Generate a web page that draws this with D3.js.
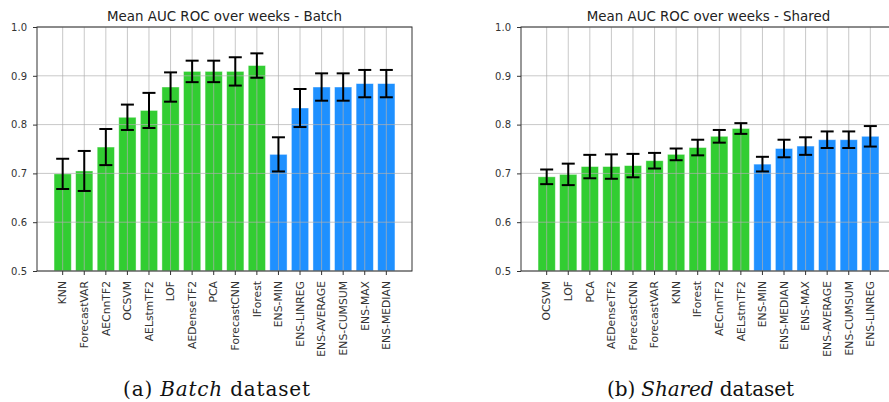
<!DOCTYPE html>
<html>
<head>
<meta charset="utf-8">
<script src="https://cdn.jsdelivr.net/npm/d3@7"></script>
<style>
  body { margin: 0; background: #fff; }
  svg { display: block; }
</style>
</head>
<body>
<svg id="chart" width="889" height="402"></svg>
<script>
// Batch panel
const batchNames = ["KNN", "ForecastVAR", "AECnnTF2", "OCSVM", "AELstmTF2", "LOF", "AEDenseTF2", "PCA", "ForecastCNN", "IForest",
  "ENS-MIN", "ENS-LINREG", "ENS-AVERAGE", "ENS-CUMSUM", "ENS-MAX", "ENS-MEDIAN"]
const batchMean = [0.699, 0.705, 0.754, 0.815, 0.829, 0.877, 0.909, 0.909, 0.909, 0.921,
  0.739, 0.834, 0.877, 0.877, 0.884, 0.884]
const batchErr = [0.031, 0.041, 0.037, 0.026, 0.036, 0.030, 0.022, 0.022, 0.029, 0.025,
  0.035, 0.039, 0.028, 0.028, 0.028, 0.028]

// Shared panel
const sharedNames = ["OCSVM", "LOF", "PCA", "AEDenseTF2", "ForecastCNN", "ForecastVAR", "KNN", "IForest", "AECnnTF2", "AELstmTF2",
  "ENS-MIN", "ENS-MEDIAN", "ENS-MAX", "ENS-AVERAGE", "ENS-CUMSUM", "ENS-LINREG"]
const sharedMean = [0.693, 0.698, 0.714, 0.714, 0.716, 0.726, 0.739, 0.753, 0.776, 0.792,
  0.719, 0.751, 0.756, 0.769, 0.769, 0.776]
const sharedErr = [0.015, 0.022, 0.024, 0.025, 0.024, 0.016, 0.012, 0.016, 0.013, 0.011,
  0.015, 0.018, 0.018, 0.017, 0.017, 0.021]

const yTicks = [0.5, 0.6, 0.7, 0.8, 0.9, 1.0]

const GREEN = "#32cd32", BLUE = "#1e90ff"

const svg = d3.select("#chart")

function drawPanel(left, names, means, errs, title, tag, italicWord) {
  const dim = { top: 27, bottom: 271, width: 375 }
  const g = svg.append("g").attr("transform", `translate(${left},0)`)

  const x = d3.scaleBand().domain(names).range([0, dim.width]).paddingInner(0.2).paddingOuter(0.79)
  const y = d3.scaleLinear().domain([0.5, 1.0]).range([dim.bottom, dim.top])
  const data = names.map((n, i) => ({ name: n, mean: means[i], err: errs[i] }))

  // bars
  g.selectAll("rect.bar").data(data).join("rect")
    .attr("class", "bar")
    .attr("x", d => x(d.name))
    .attr("width", x.bandwidth())
    .attr("y", d => y(d.mean))
    .attr("height", d => y(0.5) - y(d.mean))
    .attr("fill", d => d.name.startsWith("ENS") ? BLUE : GREEN)
    .attr("stroke", "rgba(255,255,255,0.5)")
    .attr("stroke-width", 0.8)

  // grid on top of bars, like the original
  const grid = g.append("g").attr("stroke", "#b0b0b0").attr("stroke-opacity", 0.7).attr("stroke-width", 1)
  grid.selectAll("line.h").data(yTicks).join("line")
    .attr("x1", 0).attr("x2", dim.width)
    .attr("y1", d => y(d)).attr("y2", d => y(d))
  grid.selectAll("line.v").data(names).join("line")
    .attr("x1", d => x(d) + x.bandwidth() / 2).attr("x2", d => x(d) + x.bandwidth() / 2)
    .attr("y1", dim.top).attr("y2", dim.bottom)

  // error bars
  const eb = g.append("g").attr("stroke", "#000").attr("stroke-width", 2)
  const cx = d => x(d.name) + x.bandwidth() / 2
  eb.selectAll("line.v").data(data).join("line")
    .attr("x1", cx).attr("x2", cx)
    .attr("y1", d => y(d.mean - d.err)).attr("y2", d => y(d.mean + d.err))
  eb.selectAll("line.t").data(data).join("line")
    .attr("x1", d => cx(d) - 6.5).attr("x2", d => cx(d) + 6.5)
    .attr("y1", d => y(d.mean + d.err)).attr("y2", d => y(d.mean + d.err))
  eb.selectAll("line.b").data(data).join("line")
    .attr("x1", d => cx(d) - 6.5).attr("x2", d => cx(d) + 6.5)
    .attr("y1", d => y(d.mean - d.err)).attr("y2", d => y(d.mean - d.err))

  // frame
  g.append("rect").attr("x", 0).attr("y", dim.top).attr("width", dim.width).attr("height", dim.bottom - dim.top)
    .attr("fill", "none").attr("stroke", "#333").attr("stroke-width", 1)

  // axes
  const xAxis = g.append("g").attr("transform", `translate(0,${dim.bottom})`)
    .call(d3.axisBottom(x).tickSize(4).tickPadding(6))
  xAxis.select(".domain").remove()
  xAxis.selectAll("text")
    .attr("transform", "rotate(-90)")
    .attr("text-anchor", "end")
    .attr("x", -10).attr("y", 0).attr("dy", "0.35em")
    .style("font-size", "10.8px")

  const yAxis = g.append("g")
    .call(d3.axisLeft(y).tickValues(yTicks).tickFormat(d3.format(".1f")).tickSize(4).tickPadding(6))
  yAxis.select(".domain").remove()
  yAxis.selectAll("text").style("font-size", "10px")

  g.selectAll(".tick line").attr("stroke", "#333")
  g.selectAll(".tick text").attr("fill", "#333")
    .style("font-family", "DejaVu Sans, sans-serif")

  g.append("text")
    .attr("x", dim.width / 2).attr("y", 21)
    .attr("text-anchor", "middle")
    .attr("fill", "#222")
    .style("font-family", "DejaVu Sans, sans-serif").style("font-size", "13.4px")
    .text(title)

  const cap = g.append("text")
    .attr("x", dim.width / 2 - 8).attr("y", 396)
    .attr("text-anchor", "middle")
    .attr("fill", "#111")
    .attr("textLength", 187).attr("lengthAdjust", "spacing")
    .style("font-family", "DejaVu Serif, serif").style("font-size", "20px")
  cap.append("tspan").text(tag + " ")
  cap.append("tspan").style("font-style", "italic").text(italicWord)
  cap.append("tspan").text(" dataset")
}

drawPanel(37, batchNames, batchMean, batchErr, "Mean AUC ROC over weeks - Batch", "(a)", "Batch")
drawPanel(521, sharedNames, sharedMean, sharedErr, "Mean AUC ROC over weeks - Shared", "(b)", "Shared")
</script>
</body>
</html>
